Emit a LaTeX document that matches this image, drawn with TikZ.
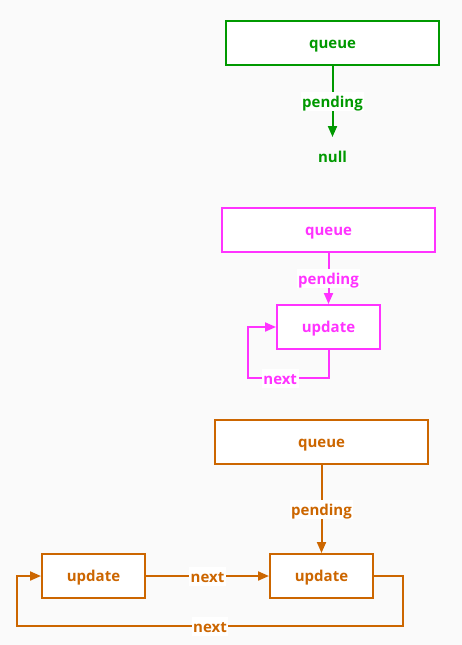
\documentclass[tikz,border=0pt]{standalone}
\usepackage{fontspec}
\setmainfont{Open Sans}
\usetikzlibrary{positioning, arrows.meta}
\definecolor{qgreen}{HTML}{009900}
\definecolor{qpink}{HTML}{FF33FF}
\definecolor{qorange}{HTML}{CC6600}
\definecolor{bggray}{HTML}{FAFAFA}

\begin{document}
\begin{tikzpicture}[x=1pt,y=-1pt,
    font=\fontsize{15}{17}\selectfont\bfseries,
    box/.style={draw, fill=white, line width=2pt, inner sep=0pt,
        minimum height=44pt, text height=10pt, text depth=0pt},
    wide/.style={box, minimum width=213pt},
    narrow/.style={box, minimum width=103pt},
    tag/.style={fill=white, inner sep=1.5pt, text height=14pt, text depth=2pt},
    link/.style={line width=2pt, -{Triangle[length=11pt,width=9pt]}}]
    % background and margins
    \fill[bggray] (0,0) rectangle (462,645);

    % queue with no pending update
    \begin{scope}[qgreen]
        \node[wide] (gq) at (332.5,43) {queue};
        \node[below=71pt of gq,
            minimum height=40pt
            ] (gnull) {null};
        \draw[link] (gq) -- node[tag] {pending} (gnull);
    \end{scope}

    % one update pointing to itself
    \begin{scope}[qpink]
        \node[wide] (mq) at (328.5,230) {queue};
        \node[narrow,
            below=51pt of mq
            ] (mu) {update};
        \draw[link] (mq) -- node[tag] {pending} (mu);
        \draw[link] (mu.south) -- ++(0,28)
            -| node[tag, pos=0.3] {next} ([xshift=-28pt]mu.west) -- (mu.west);
    \end{scope}

    % two updates in a ring
    \begin{scope}[qorange]
        \node[wide] (oq) at (321.5,442) {queue};
        \node[narrow,
            below=88pt of oq
            ] (ou2) {update};
        \node[narrow,
            left=123pt of ou2
            ] (ou1) {update};
        \draw[link] (oq) -- node[tag] {pending} (ou2);
        \draw[link] (ou1) -- node[tag] {next} (ou2);
        \draw[link] (ou2.east) -- ++(29,0) -- ++(0,50)
            -- node[tag] {next} ++(-386,0) -- ++(0,-50) -- (ou1.west);
    \end{scope}
\end{tikzpicture}
\end{document}
